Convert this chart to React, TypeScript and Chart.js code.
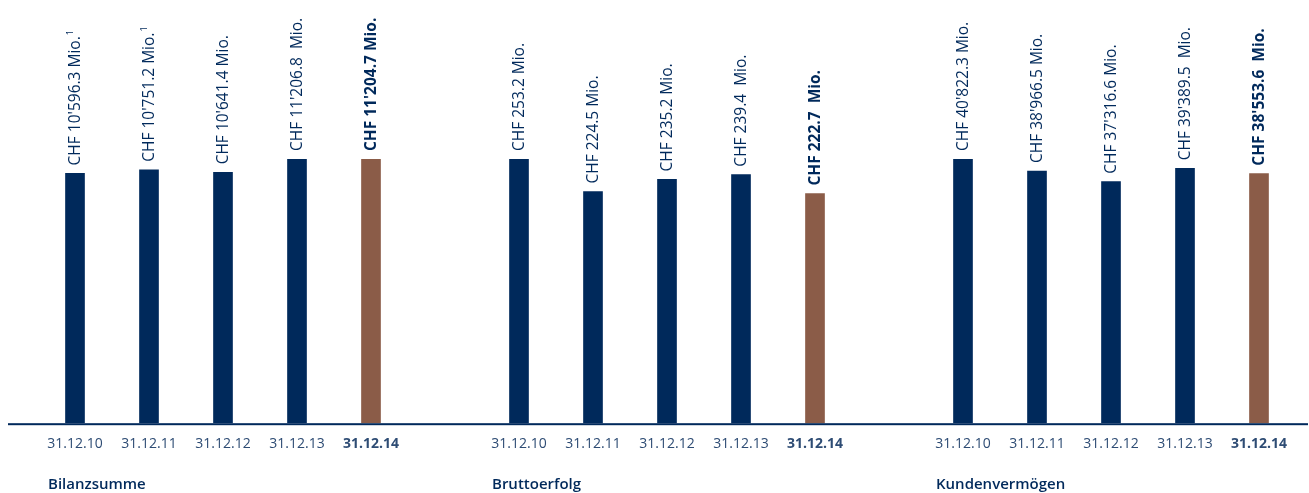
import React, { useEffect, useRef } from "react";
import { Chart, registerables } from "chart.js";

Chart.register(...registerables);

const dates = ["31.12.10", "31.12.11", "31.12.12", "31.12.13", "31.12.14"];
const groupTitles = ["Bilanzsumme", "Bruttoerfolg", "Kundenvermögen"];
const bilanzsumme = [10596.3, 10751.2, 10641.4, 11206.8, 11204.7];
const bruttoerfolg = [253.2, 224.5, 235.2, 239.4, 222.7];
const kundenvermoegen = [40822.3, 38966.5, 37316.6, 39389.5, 38553.6];
const bilanzLabels = ["CHF 10'596.3 Mio.", "CHF 10'751.2 Mio.", "CHF 10'641.4 Mio.", "CHF 11'206.8  Mio.", "CHF 11'204.7 Mio."];
const bruttoLabels = ["CHF 253.2 Mio.", "CHF 224.5 Mio.", "CHF 235.2 Mio.", "CHF 239.4  Mio.", "CHF 222.7  Mio."];
const kundenLabels = ["CHF 40'822.3 Mio.", "CHF 38'966.5 Mio.", "CHF 37'316.6 Mio.", "CHF 39'389.5  Mio.", "CHF 38'553.6  Mio."];
const bilanzNotes = ["1", "1", "", "", ""];
const emptyNotes = ["", "", "", "", ""];
const axisMins = [0, 20, 0];

const NAVY = "#00295b";
const BROWN = "#8b5c48";
const TICK = "#2e4c74";
const FONT = "'Open Sans', 'Noto Sans', sans-serif";

const groups = [
  { values: bilanzsumme, labels: bilanzLabels, notes: bilanzNotes, axis: "y1" },
  { values: bruttoerfolg, labels: bruttoLabels, notes: emptyNotes, axis: "y2" },
  { values: kundenvermoegen, labels: kundenLabels, notes: emptyNotes, axis: "y3" },
];

export default function App() {
  const ref = useRef<HTMLCanvasElement | null>(null);
  useEffect(() => {
    if (!ref.current) return;
    const slots = dates.length + 1;
    const categories: string[] = [];
    groups.forEach((g, gi) => {
      dates.forEach((d) => categories.push(d));
      if (gi < groups.length - 1) categories.push("");
    });
    const datasets = groups.map((g, gi) => {
      const data: (number | null)[] = categories.map(() => null);
      const colors: string[] = categories.map(() => NAVY);
      g.values.forEach((v, i) => {
        data[gi * slots + i] = v;
        colors[gi * slots + i] = i === g.values.length - 1 ? BROWN : NAVY;
      });
      return {
        data,
        backgroundColor: colors,
        yAxisID: g.axis,
        grouped: false,
        barThickness: 19,
        borderWidth: 0,
      };
    });

    const labelPlugin = {
      id: "valueLabels",
      afterDatasetsDraw(chart: any) {
        const ctx = chart.ctx;
        groups.forEach((g, gi) => {
          const meta = chart.getDatasetMeta(gi);
          g.values.forEach((v, i) => {
            const el = meta.data[gi * slots + i];
            if (!el) return;
            const bold = i === g.values.length - 1;
            ctx.save();
            ctx.translate(el.x + 0.5, el.y - 8);
            ctx.rotate(-Math.PI / 2);
            ctx.fillStyle = NAVY;
            ctx.textAlign = "left";
            ctx.textBaseline = "middle";
            ctx.font = `${bold ? "bold" : "normal"} 15.5px ${FONT}`;
            const text = g.labels[i];
            ctx.fillText(text, 0, 0);
            if (g.notes[i]) {
              const w = ctx.measureText(text).width;
              ctx.font = `normal 9px ${FONT}`;
              ctx.fillText(g.notes[i], w + 1, -5);
            }
            ctx.restore();
          });
        });
        // baseline
        const bottom = chart.chartArea.bottom;
        ctx.save();
        ctx.fillStyle = NAVY;
        ctx.fillRect(8, bottom, chart.width - 9, 2);
        // group titles
        const xs = chart.scales.x;
        ctx.font = `600 15px ${FONT}`;
        ctx.textAlign = "left";
        ctx.textBaseline = "alphabetic";
        ctx.fillStyle = NAVY;
        groupTitles.forEach((t, gi) => {
          const x = xs.getPixelForValue(gi * slots) - 27;
          ctx.fillText(t, x, 489);
        });
        ctx.restore();
      },
    };

    const chart = new Chart(ref.current, {
      type: "bar",
      data: { labels: categories, datasets: datasets as any },
      options: {
        animation: false,
        responsive: true,
        maintainAspectRatio: false,
        layout: { padding: { left: 38, right: 13, top: 159, bottom: 37 } },
        plugins: { legend: { display: false }, tooltip: { enabled: false } },
        scales: {
          x: {
            grid: { display: false },
            border: { display: false },
            ticks: {
              autoSkip: false,
              maxRotation: 0,
              padding: 4,
              color: TICK,
              font: (c: any) => ({
                family: FONT,
                size: 14,
                weight: c.index % slots === dates.length - 1 ? "bold" : "normal",
              }),
            },
          },
          y1: { display: false, min: axisMins[0], max: Math.max(...bilanzsumme) },
          y2: { display: false, min: axisMins[1], max: Math.max(...bruttoerfolg) },
          y3: { display: false, min: axisMins[2], max: Math.max(...kundenvermoegen) },
        },
      },
      plugins: [labelPlugin],
    });
    return () => chart.destroy();
  }, []);
  return (
    <div style={{ position: "fixed", left: 0, top: 0, width: 1309, height: 493, background: "#fff" }}>
      <canvas ref={ref} />
    </div>
  );
}
